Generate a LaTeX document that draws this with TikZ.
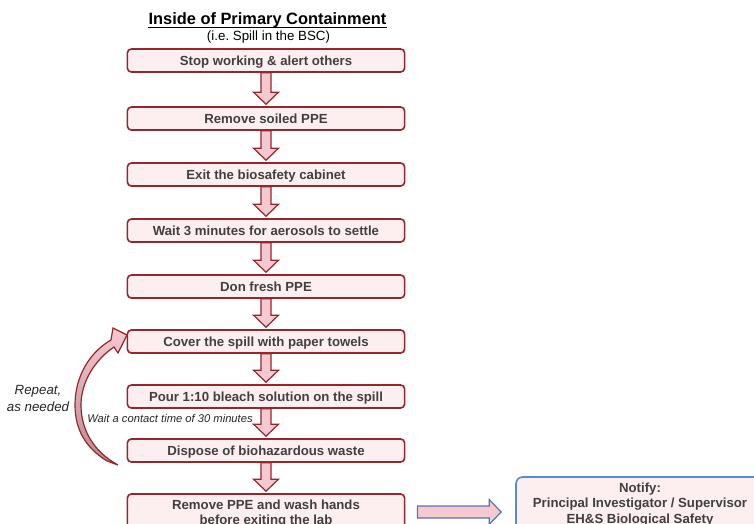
\documentclass[tikz,border=0pt]{standalone}
\usepackage{fontspec}
\setmainfont{Liberation Sans}
\usetikzlibrary{calc}
\definecolor{boxfill}{RGB}{253,238,240}
\definecolor{boxline}{RGB}{150,38,44}
\definecolor{arrfill}{RGB}{246,200,208}
\definecolor{txtgray}{RGB}{64,64,64}
\definecolor{bluline}{RGB}{84,141,206}
\definecolor{arrblue}{RGB}{80,120,180}
\definecolor{mauve}{RGB}{185,135,145}
\begin{document}
\begin{tikzpicture}[x=0.75pt,y=-0.75pt,
  stepbox/.style={draw=boxline, line width=1.2pt, fill=boxfill, rounded corners=3pt,
    minimum width=208pt, minimum height=17.25pt, inner sep=0pt,
    font=\fontsize{9.9}{11.6}\selectfont\bfseries, text=txtgray,
    text height=7.1pt, text depth=0pt},
  steptext/.style={inner sep=0pt, align=center, font=\fontsize{9.9}{11.6}\selectfont\bfseries, text=txtgray},
  notebox/.style={draw=bluline, line width=1.2pt, fill=boxfill, rounded corners=5pt,
    minimum width=186pt, minimum height=56.25pt, inner sep=0pt},
  blockarr/.style={draw=boxline, line width=0.9pt, fill=arrfill, line join=miter},
  remark/.style={inner sep=0pt, align=center, text=black!85, font=\fontsize{10}{12.75}\selectfont\itshape}
]
\useasboundingbox (0,0) rectangle (754,524);

% title
\node[anchor=base, inner sep=0pt, font=\fontsize{12.3}{14}\selectfont\bfseries] (title) at (267.5,25) {Inside of Primary Containment};
\draw[line width=0.9pt] ($(title.base west)+(0,2.5)$) -- ($(title.base east)+(0,2.5)$);
\node[anchor=base, inner sep=0pt, font=\fontsize{10}{12}\selectfont] (subtitle) at (268.5,41) {(i.e.\ Spill in the BSC)};

% steps
\node[stepbox] (b1) at (266,60.5) {Stop working \& alert others};
\node[stepbox] (b2) at (266,118.5) {Remove soiled PPE};
\node[stepbox] (b3) at (266,174.5) {Exit the biosafety cabinet};
\node[stepbox] (b4) at (266,230.5) {Wait 3 minutes for aerosols to settle};
\node[stepbox] (b5) at (266,286.5) {Don fresh PPE};
\node[stepbox] (b6) at (266,341.5) {Cover the spill with paper towels};
\node[stepbox] (b7) at (266,396.5) {Pour 1:10 bleach solution on the spill};
\node[stepbox] (b8) at (266,450.5) {Dispose of biohazardous waste};
\node[stepbox, minimum height=30.75pt] (b9) at (266,514.5) {};
\node[steptext] (t9) at (266,513.5) {Remove PPE and wash hands\\before exiting the lab};

% notify box
\node[notebox] (n) at (640,514.5) {};
\node[steptext] (tn) at (640,504.5) {Notify:\\Principal Investigator / Supervisor\\EH\&S Biological Safety};

% down block arrows
\foreach \a/\b in {b1/b2,b2/b3,b3/b4,b4/b5,b5/b6,b6/b7,b7/b8,b8/b9}{
  \draw[blockarr] ($(\a.south)+(-5,0)$) -- ($(\b.north)+(-5,-14)$) -- ($(\b.north)+(-12.5,-14)$)
    -- ($(\b.north)+(0,-2)$) -- ($(\b.north)+(12.5,-14)$) -- ($(\b.north)+(5,-14)$)
    -- ($(\a.south)+(5,0)$) -- cycle;
}

% right block arrow
\draw[blockarr, draw=arrblue] ($(b9.east)+(12,-8.5)$) -- ($(n.west)+(-26,-8.5)$) -- ($(n.west)+(-26,-15)$)
  -- ($(n.west)+(-14,-2.5)$) -- ($(n.west)+(-26,10)$) -- ($(n.west)+(-26,3.5)$)
  -- ($(b9.east)+(12,3.5)$) -- cycle;

% curved repeat arrow
\draw[draw=boxline, line width=0.9pt, top color=arrfill, bottom color=mauve, line join=miter]
  (107,461) .. controls (86,448) and (75,430) .. (75,405)
  .. controls (75,376) and (90,352) .. (111,340)
  -- (113,328) -- (127,335) -- (118,353) -- (114,347)
  .. controls (96,359) and (81,381) .. (81,405)
  .. controls (81,430) and (94,452) .. (118,465) -- cycle;

% remarks
\node[remark] (rep) at (38,398) {Repeat,\\as needed};
\node[remark, font=\fontsize{8.4}{10}\selectfont\itshape] (wait) at (170,418) {Wait a contact time of 30 minutes};
\end{tikzpicture}
\end{document}
